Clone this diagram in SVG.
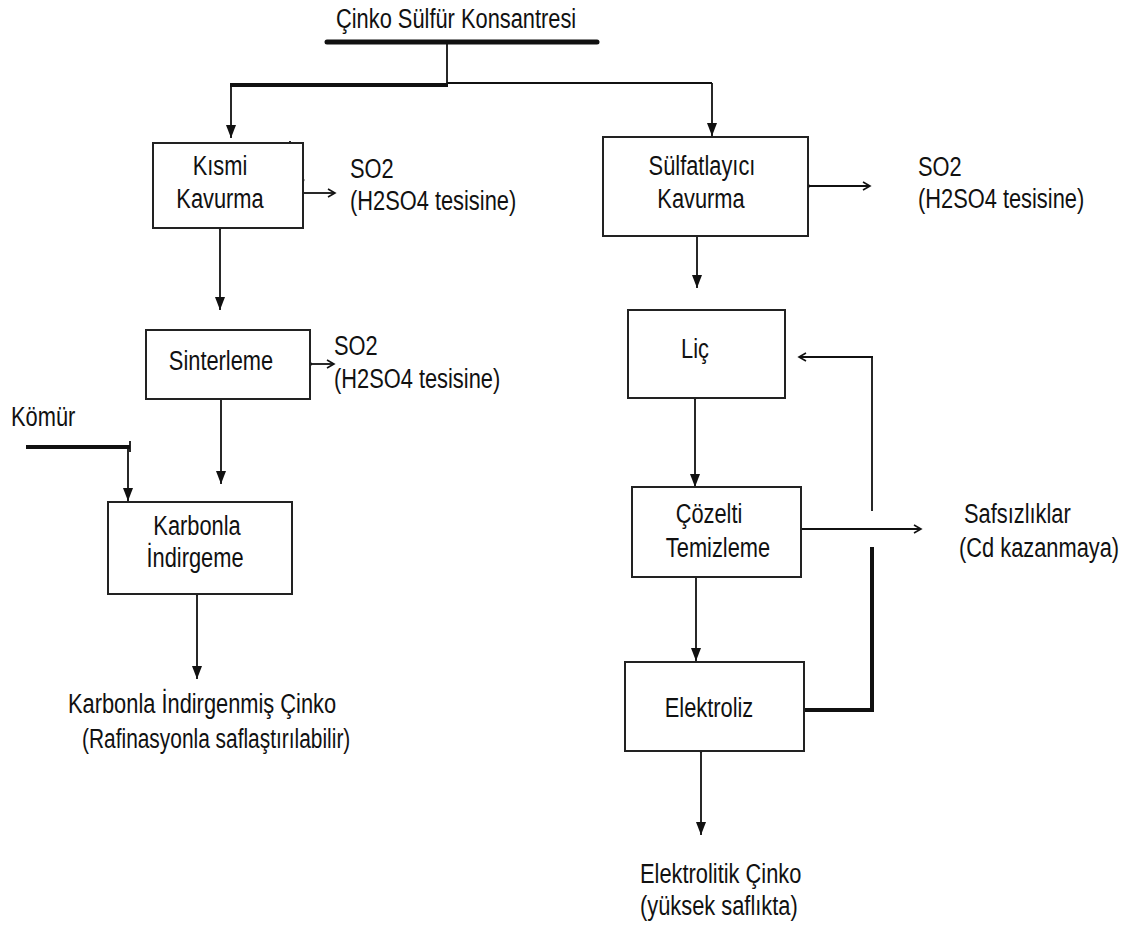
<svg xmlns="http://www.w3.org/2000/svg" width="1130" height="929" viewBox="0 0 1130 929">
<style>
.t{font-family:"Liberation Sans",Arial,sans-serif;font-size:28px;fill:#111}
.m{text-anchor:middle}
.box{fill:#fff;stroke:#222;stroke-width:2}
.ln{fill:none;stroke:#111;stroke-width:1.8}
.thk{fill:none;stroke:#111;stroke-width:4}
.arr{marker-end:url(#ah)}
.open{marker-end:url(#oh)}
</style>
<defs>
<marker id="ah" markerUnits="userSpaceOnUse" markerWidth="13" markerHeight="10" refX="13" refY="5" orient="auto">
<path d="M0,0 L13,5 L0,10 z" fill="#111"/>
</marker>
<marker id="oh" markerUnits="userSpaceOnUse" markerWidth="10" markerHeight="10" refX="8" refY="5" orient="auto">
<path d="M1,1 L8,5 L1,9" fill="none" stroke="#111" stroke-width="1.6"/>
</marker>
</defs>
<rect width="1130" height="929" fill="#fff"/>

<g id="connectors">
<line x1="327" y1="42" x2="597" y2="42" stroke="#111" stroke-width="5" stroke-linecap="round"/>
<line class="ln" x1="447" y1="42" x2="447" y2="84" stroke-width="3"/>
<line class="thk" x1="230" y1="85" x2="448" y2="85"/>
<line class="ln" x1="447" y1="83" x2="712" y2="83" stroke-width="3"/>
<line class="ln arr" x1="231" y1="85" x2="231" y2="138"/>
<line class="ln arr" x1="712" y1="83" x2="712" y2="136"/>
<line class="ln" x1="290" y1="141" x2="290" y2="149" stroke-width="2.5"/>
<circle cx="303" cy="180" r="1.5" fill="#111"/>
<line class="ln open" x1="303" y1="193" x2="335" y2="193"/>
<line class="ln arr" x1="220" y1="228" x2="220" y2="310"/>
<circle cx="220" cy="228" r="1.5" fill="#111"/>
<line class="ln open" x1="305" y1="364" x2="334" y2="364"/>
<circle cx="310" cy="364" r="2" fill="#111"/>
<line class="ln arr" x1="221" y1="399" x2="221" y2="484"/>
<line class="thk" x1="26" y1="447" x2="130" y2="447"/>
<line class="ln" x1="130" y1="441" x2="130" y2="452" stroke-width="2.5"/>
<line class="ln arr" x1="128" y1="447" x2="128" y2="501"/>
<line class="ln arr" x1="197" y1="594" x2="197" y2="679"/>
<circle cx="197" cy="594" r="1.5" fill="#111"/>
<line class="ln open" x1="808" y1="186" x2="870" y2="186"/>
<circle cx="808" cy="186" r="2" fill="#111"/>
<line class="ln arr" x1="697" y1="236" x2="697" y2="288"/>
<line class="ln arr" x1="695" y1="398" x2="695" y2="487"/>
<circle cx="695" cy="398" r="1.5" fill="#111"/>
<line class="ln arr" x1="696" y1="577" x2="696" y2="661"/>
<line class="ln open" x1="801" y1="529" x2="921" y2="529" stroke-width="1.5"/>
<path class="thk" d="M804,710 H872 V547" stroke-width="3.5"/>
<line class="ln" x1="872" y1="511" x2="872" y2="357" stroke-width="3"/>
<line class="ln open" x1="873" y1="357" x2="799" y2="357"/>
<line class="ln arr" x1="701" y1="751" x2="701" y2="835"/>
<circle cx="701" cy="751" r="1.5" fill="#111"/>
</g>

<g id="title">
<text class="t" transform="translate(336,28) scale(0.78,1)">Çinko Sülfür Konsantresi</text>
</g>

<g id="kismi-kavurma">
<rect class="box" x="153" y="143" width="150" height="85"/>
<text class="t m" transform="translate(220,175) scale(0.78,1)">Kısmi</text>
<text class="t m" transform="translate(220,208) scale(0.78,1)">Kavurma</text>
</g>
<g id="so2-1">
<text class="t" transform="translate(350,178) scale(0.78,1)">SO2</text>
<text class="t" transform="translate(350,210) scale(0.78,1)">(H2SO4 tesisine)</text>
</g>

<g id="sinterleme">
<rect class="box" x="146" y="330" width="164" height="69"/>
<text class="t m" transform="translate(221,370) scale(0.78,1)">Sinterleme</text>
</g>
<g id="so2-2">
<text class="t" transform="translate(334,355) scale(0.78,1)">SO2</text>
<text class="t" transform="translate(334,388) scale(0.78,1)">(H2SO4 tesisine)</text>
</g>

<g id="komur">
<text class="t" transform="translate(11,426) scale(0.78,1)">Kömür</text>
</g>

<g id="karbonla-indirgeme">
<rect class="box" x="108" y="502" width="184" height="92"/>
<text class="t m" transform="translate(197,535) scale(0.78,1)">Karbonla</text>
<text class="t m" transform="translate(195,567) scale(0.78,1)">İndirgeme</text>
</g>

<g id="karbonla-cinko">
<text class="t" transform="translate(68,713) scale(0.78,1)">Karbonla İndirgenmiş Çinko</text>
<text class="t" transform="translate(82,748) scale(0.78,1)" textLength="344" lengthAdjust="spacingAndGlyphs">(Rafinasyonla saflaştırılabilir)</text>
</g>

<g id="sulfatlayici-kavurma">
<rect class="box" x="603" y="137" width="205" height="99"/>
<text class="t m" transform="translate(702,175) scale(0.78,1)">Sülfatlayıcı</text>
<text class="t m" transform="translate(701,208) scale(0.78,1)">Kavurma</text>
</g>
<g id="so2-3">
<text class="t" transform="translate(918,176) scale(0.78,1)">SO2</text>
<text class="t" transform="translate(918,208) scale(0.78,1)">(H2SO4 tesisine)</text>
</g>

<g id="lic">
<rect class="box" x="628" y="310" width="157" height="88"/>
<text class="t m" transform="translate(695,358) scale(0.78,1)">Liç</text>
</g>

<g id="cozelti-temizleme">
<rect class="box" x="632" y="487" width="169" height="90"/>
<text class="t m" transform="translate(709,523) scale(0.78,1)">Çözelti</text>
<text class="t m" transform="translate(718,557) scale(0.78,1)">Temizleme</text>
</g>

<g id="safsizliklar">
<text class="t" transform="translate(964,523) scale(0.78,1)">Safsızlıklar</text>
<text class="t" transform="translate(959,557) scale(0.78,1)">(Cd kazanmaya)</text>
</g>

<g id="elektroliz">
<rect class="box" x="625" y="662" width="179" height="89"/>
<text class="t m" transform="translate(709,717) scale(0.78,1)">Elektroliz</text>
</g>

<g id="elektrolitik-cinko">
<text class="t" transform="translate(640,883) scale(0.78,1)">Elektrolitik Çinko</text>
<text class="t" transform="translate(640,915) scale(0.78,1)">(yüksek saflıkta)</text>
</g>
</svg>
